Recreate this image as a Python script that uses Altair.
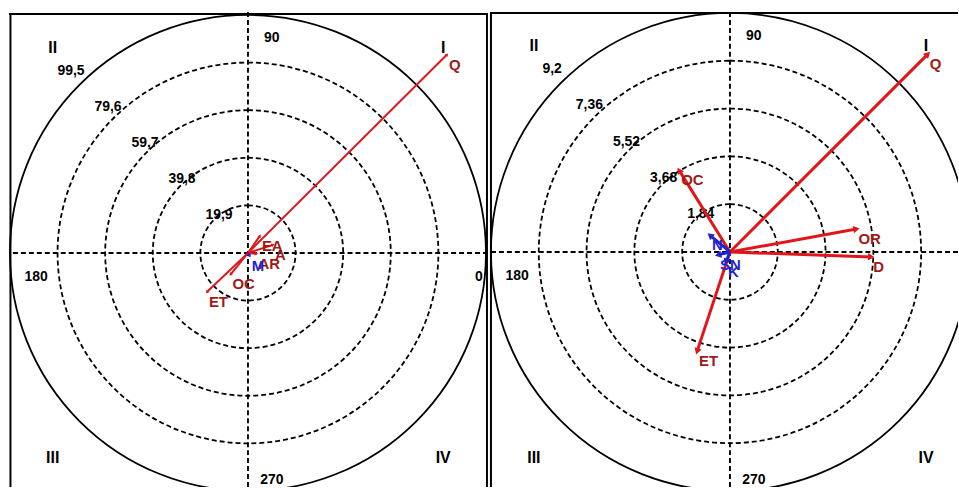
import altair as alt
import pandas as pd

FONT = "Liberation Sans Narrow, Liberation Sans, Arial, sans-serif"
RED = "#e0161b"
RED_TEXT = "#9e1a1a"
BLUE = "#1f24d0"

# ---- left diagram: magnitudes on a 0 - 99.5 scale ----
rings_a = [19.9, 39.8, 59.7, 79.6, 99.5]
ring_text_a = ["19,9", "39,8", "59,7", "79,6", "99,5"]
vec_name_a = ["Q", "ET", "OC", "EA", "A", "AR", "M"]
vec_len_a = [117.5, 23.7, 11.6, 8.7, 11.0, 3.6, 1.5]
vec_ang_a = [44.9, 223.6, 231.0, 55.0, 18.0, 355.0, 300.0]
vec_kind_a = ["red", "red", "red", "red", "red", "red", "blue"]

# ---- right diagram: magnitudes on a 0 - 9.2 scale ----
rings_b = [1.84, 3.68, 5.52, 7.36, 9.2]
ring_text_b = ["1,84", "3,68", "5,52", "7,36", "9,2"]
vec_name_b = ["Q", "OR", "D", "ET", "OC", "N", "SN", "K"]
vec_len_b = [10.77, 4.95, 5.44, 4.03, 3.70, 1.0, 0.47, 0.41]
vec_ang_b = [45.0, 10.3, 358.0, 251.7, 121.9, 140.0, 194.0, 248.0]
vec_kind_b = ["red", "red", "red", "red", "red", "blue", "blue", "blue"]

# shared annotations
directions = [0, 90, 180, 270]
direction_text = ["0", "90", "180", "270"]
quadrants = ["I", "II", "III", "IV"]
quadrant_angles = [45, 135, 225, 315]

H = 477


def polar_panel(rings, ring_text, names, lens, angs, kinds,
                r_px, W, cx, cy, line_w, head_size, top_y, edges):
    rmax = rings[-1]
    k = r_px / rmax  # pixels per data unit
    xsc = alt.Scale(domain=[-cx / k, (W - cx) / k], nice=False, zero=False)
    ysc = alt.Scale(domain=[-(H - cy) / k, cy / k], nice=False, zero=False)
    rsc = alt.Scale(type="linear", domain=[0, rmax], range=[0, r_px], zero=True)

    def X(f):
        return alt.X(f"{f}:Q", scale=xsc, axis=None)

    def Y(f):
        return alt.Y(f"{f}:Q", scale=ysc, axis=None)

    ring_df = pd.DataFrame({"r": rings, "txt": ring_text})
    ring_base = alt.Chart(ring_df).transform_calculate(c0="0")

    dashed_rings = ring_base.transform_filter(alt.datum.r < rmax).mark_arc(
        filled=False, color="black", strokeWidth=1.8, strokeDash=[5, 3],
        theta=0, theta2=6.2832, clip=True
    ).encode(x=X("c0"), y=Y("c0"),
             radius=alt.Radius("r:Q", scale=rsc, stack=False))

    outer_ring = ring_base.transform_filter(alt.datum.r >= rmax).mark_arc(
        filled=False, color="black", strokeWidth=1.8,
        theta=0, theta2=6.2832, clip=True
    ).encode(x=X("c0"), y=Y("c0"),
             radius=alt.Radius("r:Q", scale=rsc, stack=False))

    ring_labels = ring_base.transform_calculate(
        lx="datum.r * 1.084 * cos(135.8 * PI / 180)",
        ly="datum.r * 1.084 * sin(135.8 * PI / 180)",
    ).mark_text(
        align="center", baseline="middle", dx=8, dy=-2, font=FONT,
        fontSize=14, fontWeight="bold", color="black", clip=True
    ).encode(x=X("lx"), y=Y("ly"), text="txt:N")

    zero_df = pd.DataFrame({"v": [0]})
    cross_h = alt.Chart(zero_df).mark_rule(
        color="black", strokeWidth=1.9, strokeDash=[5, 3], clip=True
    ).encode(y=Y("v"))
    cross_v = alt.Chart(zero_df).mark_rule(
        color="black", strokeWidth=1.9, strokeDash=[5, 3], clip=True
    ).encode(x=X("v"))

    dir_df = pd.DataFrame({"a": directions, "txt": direction_text})
    off = 24 / k
    dir_labels = alt.Chart(dir_df).transform_calculate(
        f="datum.a == 0 ? 0.97 : datum.a == 90 ? 0.905 : datum.a == 180 ? 0.89 : 0.955",
    ).transform_calculate(
        px=f"{rmax} * datum.f * cos(datum.a * PI / 180) + (datum.a % 180 == 90 ? {off} : 0)",
        py=f"{rmax} * datum.f * sin(datum.a * PI / 180) - (datum.a % 180 == 0 ? {off} : 0)",
    ).mark_text(
        align="center", baseline="middle", font=FONT, fontSize=14,
        fontWeight="bold", color="black", clip=True
    ).encode(x=X("px"), y=Y("py"), text="txt:N")

    quad_df = pd.DataFrame({"q": quadrants, "a": quadrant_angles})
    quad_labels = alt.Chart(quad_df).transform_calculate(
        px=f"{rmax} * 1.16 * cos(datum.a * PI / 180)",
        py=f"{rmax} * 1.22 * sin(datum.a * PI / 180)",
    ).mark_text(
        align="center", baseline="middle", font=FONT, fontSize=16,
        fontWeight="bold", color="black", clip=True
    ).encode(x=X("px"), y=Y("py"), text="q:N")

    vec_df = pd.DataFrame({"name": names, "len": lens, "ang": angs, "kind": kinds})
    vec_base = alt.Chart(vec_df).transform_calculate(
        tx="datum.len * cos(datum.ang * PI / 180)",
        ty="datum.len * sin(datum.ang * PI / 180)",
        rot="(450 - datum.ang) % 360",
        o="0",
    )
    line_colors = alt.Scale(domain=["red", "blue"], range=[RED, BLUE])
    text_colors = alt.Scale(domain=["red", "blue"], range=[RED_TEXT, BLUE])

    vec_lines = vec_base.mark_rule(strokeWidth=line_w, clip=True).encode(
        x=X("o"), y=Y("o"), x2="tx:Q", y2="ty:Q",
        color=alt.Color("kind:N", scale=line_colors, legend=None),
    )
    vec_heads = vec_base.mark_point(
        shape="triangle-up", filled=True, size=head_size, opacity=1, clip=True
    ).encode(
        x=X("tx"), y=Y("ty"), angle=alt.Angle("rot:Q", scale=None),
        color=alt.Color("kind:N", scale=line_colors, legend=None),
    )
    vec_labels = vec_base.mark_text(
        align="left", baseline="middle", dx=2, dy=10, font=FONT,
        fontSize=15, fontWeight="bold", clip=True
    ).encode(
        x=X("tx"), y=Y("ty"), text="name:N",
        color=alt.Color("kind:N", scale=text_colors, legend=None),
    )

    frame = alt.Chart(zero_df).mark_rule(color="black", strokeWidth=2)
    borders = [frame.encode(x=alt.value(0), x2=alt.value(W), y=alt.value(top_y))]
    for ex in edges:
        borders.append(frame.encode(x=alt.value(ex), y=alt.value(top_y), y2=alt.value(H)))

    return alt.layer(
        dashed_rings, outer_ring, cross_h, cross_v, ring_labels, dir_labels,
        quad_labels, vec_lines, vec_heads, vec_labels, *borders
    ).resolve_scale(color="independent").properties(width=W, height=H)


left = polar_panel(rings_a, ring_text_a, vec_name_a, vec_len_a, vec_ang_a, vec_kind_a,
                   r_px=239, W=481, cx=240, cy=242, line_w=2, head_size=14,
                   top_y=2, edges=[1.5, 480])
right = polar_panel(rings_b, ring_text_b, vec_name_b, vec_len_b, vec_ang_b, vec_kind_b,
                    r_px=240, W=470, cx=241, cy=241, line_w=3, head_size=55,
                    top_y=1, edges=[1])

chart = alt.hconcat(left, right, spacing=0).properties(
    padding={"left": 8, "top": 11, "right": 0, "bottom": 0},
    background="white",
).configure_view(stroke=None)

chart.save("out.html", embed_options={"renderer": "svg", "actions": False})
